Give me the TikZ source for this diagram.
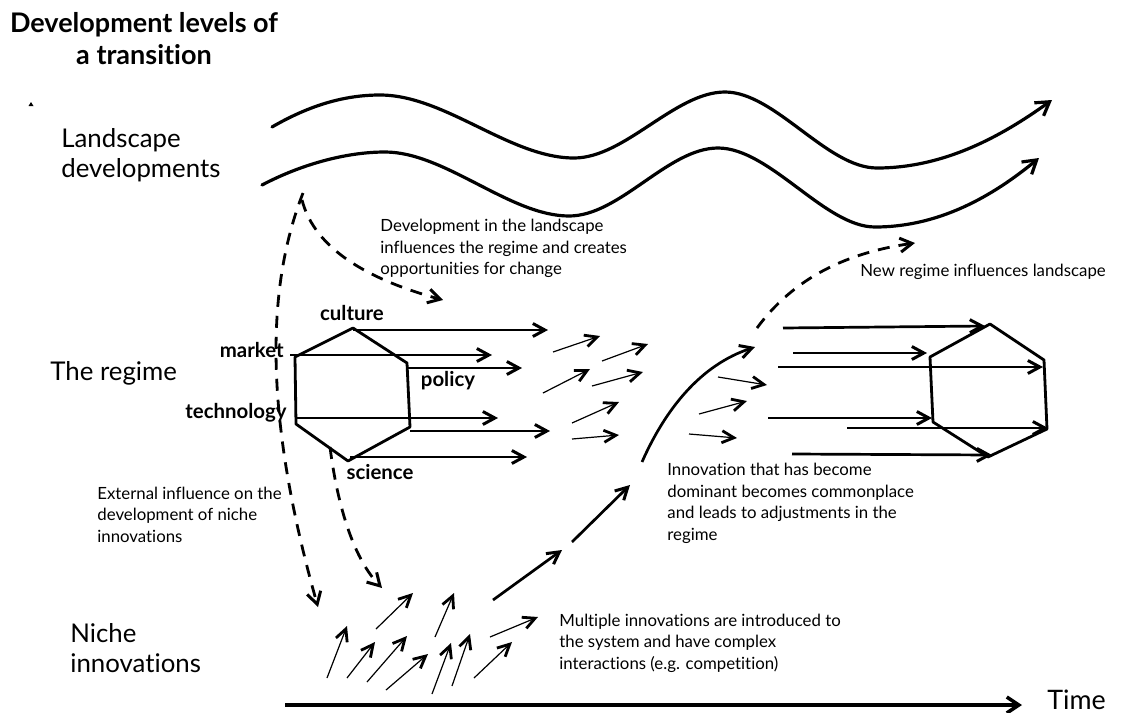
\documentclass[tikz,border=0pt]{standalone}
\usepackage{fontspec}
\setmainfont{Lato}[Ligatures={CommonOff,ContextualOff}]
\usetikzlibrary{arrows.meta}
\tikzset{
 wave/.style={line width=1.6pt, line cap=round, -{Straight Barb[length=6.5pt,width=8pt,line width=1.6pt]}},
 bigarr/.style={line width=1.35pt, -{Straight Barb[length=6pt,width=6.5pt,line width=1.5pt]}},
 thinarr/.style={line width=0.6pt, -{Straight Barb[length=6pt,width=6pt,line width=1.4pt]}},
 dasharr/.style={line width=1.4pt, dash pattern=on 6pt off 4.5pt, -{Straight Barb[length=6pt,width=7pt,line width=1.5pt]}},
 timeax/.style={line width=2pt, -{Straight Barb[length=6pt,width=8pt,line width=1.8pt]}},
 hexa/.style={line width=1.4pt, line join=round},
 lbl/.style={font=\fontsize{12.9}{15}\selectfont, align=left, anchor=west, inner sep=0pt},
 ttl/.style={font=\bfseries\fontsize{13.5}{16}\selectfont, align=center, inner sep=0pt},
 note/.style={font=\fontsize{8.4}{10.75}\selectfont, align=left, anchor=west, inner sep=0pt},
 kw/.style={font=\bfseries\fontsize{10.2}{12}\selectfont, inner sep=0pt},
}
\newcommand\conn[4]{\coordinate (#1a) at (#2); \coordinate (#1b) at (#3); \draw[#4] (#1a) -- (#1b);}
\begin{document}
\begin{tikzpicture}[x=0.5pt,y=-0.5pt]
\useasboundingbox (0,0) rectangle (1121,713);

% texts
\node[ttl] (title) at (144,39) {Development levels of\\a transition};
\node[lbl] (land) at (61,155) {Landscape\\developments};
\node[lbl] (reg) at (50,373) {The regime};
\node[lbl] (niche) at (70,648) {Niche\\innovations};
\node[lbl, font=\fontsize{13.4}{15}\selectfont] (time) at (1047,700) {Time};
\fill (28.5,106) -- (31,102) -- (33.5,106) -- cycle;

\node[note] (n1) at (380,248.5) {Development in the landscape\\influences the regime and creates\\opportunities for change};
\node[note] (n2) at (860,272) {New regime influences landscape};
\node[note] (n3) at (667,503.5) {Innovation that has become\\dominant becomes commonplace\\and leads to adjustments in the\\regime};
\node[note] (n4) at (559,643) {Multiple innovations are introduced to\\the system and have complex\\interactions (e.g. competition)};
\node[note] (n5) at (97,514.5) {External influence on the\\development of niche\\innovations};

\node[kw] (culture) at (352,313) {culture};
\node[kw, anchor=east] (market) at (284,350) {market};
\node[kw] (policy) at (448,381) {policy};
\node[kw, anchor=east] (technology) at (287,413) {technology};
\node[kw] (science) at (380,472) {science};

% waves
\coordinate (w1a) at (272,127); \coordinate (w1b) at (1052,100);
\draw[wave] (w1a) .. controls (310,105) and (345,95) .. (380,95)
  .. controls (445,95) and (510,158) .. (574,158)
  .. controls (625,158) and (675,92) .. (725,92)
  .. controls (775,92) and (827,168) .. (877,168)
  .. controls (950,168) and (1010,130) .. (w1b);
\coordinate (w2a) at (262,185); \coordinate (w2b) at (1039,158);
\draw[wave] (w2a) .. controls (300,165) and (345,152) .. (385,152)
  .. controls (445,152) and (510,216) .. (569,216)
  .. controls (620,216) and (668,148) .. (718,148)
  .. controls (770,148) and (825,227) .. (875,227)
  .. controls (945,227) and (1000,190) .. (w2b);

% left hexagon
\coordinate (h1) at (353,328); \coordinate (h2) at (407,363); \coordinate (h3) at (410,427);
\coordinate (h4) at (348,461); \coordinate (h5) at (296,424); \coordinate (h6) at (295,357);
\draw[hexa] (h1) -- (h2) -- (h3) -- (h4) -- (h5) -- (h6) -- cycle;
\conn{ra1}{353,330}{548,330}{bigarr}
\conn{ra2}{290,355}{492,355}{bigarr}
\conn{ra3}{407,368}{522,368}{bigarr}
\conn{ra4}{296,418}{498,418}{bigarr}
\conn{ra5}{410,431}{550,431}{bigarr}
\conn{ra6}{350,457}{527,457}{bigarr}

% middle thin arrows
\conn{ma1}{553,352}{600,336}{thinarr}
\conn{ma2}{602,361}{648,344}{thinarr}
\conn{ma3}{543,393}{590,369}{thinarr}
\conn{ma4}{592,386}{643,372}{thinarr}
\conn{ma5}{572,423}{619,402}{thinarr}
\conn{ma6}{572,439}{619,435}{thinarr}

% right thin arrows
\conn{rt1}{718,377}{767,385}{thinarr}
\conn{rt2}{699,414}{747,401}{thinarr}
\conn{rt3}{689,434}{737,438}{thinarr}

% right hexagon
\coordinate (k1) at (990,324); \coordinate (k2) at (1044,360); \coordinate (k3) at (1047,429);
\coordinate (k4) at (988,457); \coordinate (k5) at (933,422); \coordinate (k6) at (930,357);
\draw[hexa] (k1) -- (k2) -- (k3) -- (k4) -- (k5) -- (k6) -- cycle;
\conn{rb1}{783,328}{985,326}{bigarr}
\conn{rb2}{793,353}{927,353}{bigarr}
\conn{rb3}{778,367}{1043,367}{bigarr}
\conn{rb4}{768,418}{932,418}{bigarr}
\conn{rb5}{847,428}{1048,428}{bigarr}
\conn{rb6}{792,454}{992,455}{bigarr}

% niche thin arrows
\conn{na1}{327,678}{347,626}{thinarr}
\conn{na2}{347,678}{375,642}{thinarr}
\conn{na3}{367,682}{407,636}{thinarr}
\conn{na4}{376,629}{413,593}{thinarr}
\conn{na5}{386,690}{428,654}{thinarr}
\conn{na6}{435,637}{454,593}{thinarr}
\conn{na7}{432,694}{451,643}{thinarr}
\conn{na8}{452,686}{470,634}{thinarr}
\conn{na9}{474,678}{512,642}{thinarr}
\conn{na10}{490,637}{538,617}{thinarr}

% path from niche to regime
\conn{ps1}{493,600}{562,550}{bigarr}
\conn{ps2}{572,542}{630,485}{bigarr}
\coordinate (pc1) at (642,462); \coordinate (pc2) at (755,347);
\draw[bigarr] (pc1) .. controls (665,410) and (700,365) .. (pc2);

% dashed influences
\coordinate (d1a) at (303,193); \coordinate (d1b) at (318,607);
\draw[dasharr] (d1a) .. controls (265,290) and (265,420) .. (d1b);
\coordinate (d2a) at (302,200); \coordinate (d2b) at (443,300);
\draw[dasharr] (d2a) .. controls (315,250) and (370,280) .. (d2b);
\coordinate (d3a) at (330,447); \coordinate (d3b) at (382,588);
\draw[dasharr] (d3a) .. controls (338,510) and (355,560) .. (d3b);
\coordinate (d4a) at (757,328); \coordinate (d4b) at (915,243);
\draw[dasharr] (d4a) .. controls (785,290) and (830,255) .. (d4b);

% time axis
\conn{ta}{285,705}{1022,705}{timeax}
\end{tikzpicture}
\end{document}
